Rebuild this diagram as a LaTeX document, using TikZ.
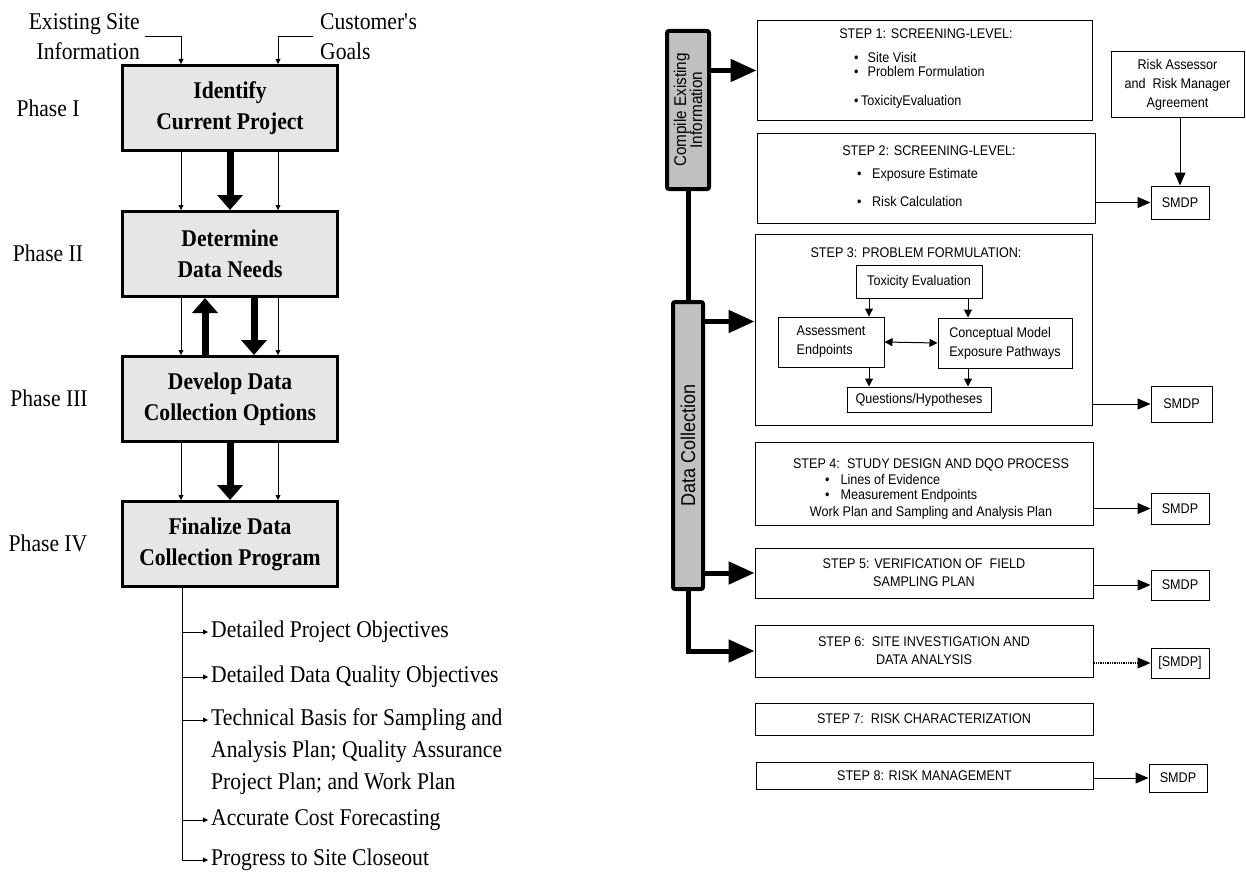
\documentclass[tikz,border=0pt]{standalone}
\usepackage{fontspec}
\setmainfont{Liberation Serif}[FakeStretch=0.9]
\newfontfamily\rsans{Liberation Sans}[FakeStretch=0.9]
\usetikzlibrary{arrows.meta}
\definecolor{boxgray}{RGB}{230,230,230}
\definecolor{bargray}{RGB}{192,192,192}
\begin{document}
\begin{tikzpicture}[x=1pt,y=-1pt,
  phasebox/.style={draw, line width=3pt, fill=boxgray, minimum width=215pt, minimum height=85pt, inner sep=0pt, align=center, font=\bfseries\fontsize{24}{31}\selectfont},
  phaselbl/.style={font=\fontsize{24}{30}\selectfont, inner sep=0pt},
  thinarr/.style={line width=0.8pt, -{Triangle[length=5pt,width=5pt]}},
  fatarr/.style={line width=7pt, -{Triangle[length=15pt,width=25pt]}},
  listtxt/.style={anchor=west, inner xsep=3pt, inner ysep=0pt, align=left, font=\fontsize{24}{32}\selectfont},
  sans/.style={font=\rsans\fontsize{14}{14}\selectfont, inner sep=0pt, text height=10pt, text depth=3pt},
  stepbox/.style={draw, line width=1pt, inner sep=0pt, align=center, font=\rsans\fontsize{14}{18}\selectfont},
  innerbox/.style={draw, line width=1pt, inner sep=0pt, font=\rsans\fontsize{14}{19}\selectfont},
  smdp/.style={draw, line width=1pt, minimum width=58pt, inner sep=0pt, font=\rsans\fontsize{14}{14}\selectfont},
  medarr/.style={line width=1pt, -{Triangle[length=13pt,width=11pt]}},
  smallarr/.style={line width=1pt, -{Triangle[length=8pt,width=8pt]}},
  bigarr/.style={line width=5pt, -{Triangle[length=26pt,width=22pt]}},
  bar/.style={draw, line width=4pt, fill=bargray, rounded corners=2pt, rotate=90, inner sep=0pt, align=center},
]
\useasboundingbox (0,0) rectangle (1246,875);

% ---------------- left: phases ----------------
\node[phasebox] (b1) at (230,108) {Identify\\Current Project};
\node[phasebox] (b2) at (230,254) {Determine\\Data Needs};
\node[phasebox] (b3) at (230,399) {Develop Data\\Collection Options};
\node[phasebox] (b4) at (230,544) {Finalize Data\\Collection Program};

\node[phaselbl] (p1) at (48,108) {Phase I};
\node[phaselbl] (p2) at (48,253) {Phase II};
\node[phaselbl] (p3) at (49,398) {Phase III};
\node[phaselbl] (p4) at (48,543) {Phase IV};

\node[phaselbl, align=right, anchor=east] (esi) at (140,37) {Existing Site\\Information};
\node[phaselbl, align=left, anchor=west] (cg) at (320,37) {Customer\textquotesingle s\\Goals};
\coordinate (esiend) at (145,36);
\coordinate (cgend) at (313,36);
\draw[thinarr] (esiend) -| ([xshift=-49pt]b1.north);
\draw[thinarr] (cgend) -| ([xshift=48pt]b1.north);

\foreach \a/\b in {b1/b2,b2/b3,b3/b4}{
  \draw[thinarr] ([xshift=-49pt]\a.south) -- ([xshift=-49pt]\b.north);
  \draw[thinarr] ([xshift=48pt]\a.south) -- ([xshift=48pt]\b.north);
}
\draw[fatarr] (b1.south) -- (b2.north);
\draw[fatarr] ([xshift=-25pt]b3.north) -- ([xshift=-25pt]b2.south);
\draw[fatarr] ([xshift=24pt]b2.south) -- ([xshift=24pt]b3.north);
\draw[fatarr] (b3.south) -- (b4.north);

% outputs
\node[listtxt] (l1) at (208,632) {Detailed Project Objectives};
\node[listtxt] (l2) at (208,677) {Detailed Data Quality Objectives};
\node[listtxt] (l3) at (208,752) {Technical Basis for Sampling and\\Analysis Plan; Quality Assurance\\Project Plan; and Work Plan};
\node[listtxt] (l4) at (208,820) {Accurate Cost Forecasting};
\node[listtxt] (l5) at (208,860) {Progress to Site Closeout};
\coordinate (trunk) at ([xshift=-48pt]b4.south);
\coordinate (l3a) at ([yshift=32pt]l3.west);
\draw[thinarr] (trunk |- l1.west) -- (l1.west);
\draw[thinarr] (trunk |- l2.west) -- (l2.west);
\draw[thinarr] (trunk |- l3a) -- (l3a);
\draw[thinarr] (trunk |- l4.west) -- (l4.west);
\draw[thinarr] (trunk) |- (l5.west);

% ---------------- right: steps ----------------
\node[bar, minimum width=158pt, minimum height=42pt, font=\rsans\fontsize{17}{16}\selectfont] (cbar) at (688,110) {Compile Existing\\Information};
\node[bar, minimum width=287pt, minimum height=30pt, font=\rsans\fontsize{20}{20}\selectfont] (dbar) at (688,445.5) {Data Collection};
\draw[line width=5pt] (cbar.west) -- (dbar.east);

\node[stepbox, minimum width=335pt, minimum height=99pt] (s1) at (924.5,70.5) {};
\node[stepbox, minimum width=338pt, minimum height=90pt] (s2) at (926,178) {};
\node[stepbox, minimum width=337pt, minimum height=191pt] (s3) at (923.5,329.5) {};
\node[stepbox, minimum width=338pt, minimum height=83pt] (s4) at (924,483.5) {};
\node[stepbox, minimum width=338pt, minimum height=50pt] (s5) at (924,573) {STEP 5: VERIFICATION OF\ \ FIELD\\SAMPLING PLAN};
\node[stepbox, minimum width=338pt, minimum height=52pt] (s6) at (924,651) {STEP 6:\ \ SITE INVESTIGATION AND\\DATA ANALYSIS};
\node[stepbox, minimum width=338pt, minimum height=32pt] (s7) at (924,719) {STEP 7:\ \ RISK CHARACTERIZATION};
\node[stepbox, minimum width=337pt, minimum height=27pt] (s8) at (924.5,775.5) {STEP 8: RISK MANAGEMENT};

\coordinate (s3in) at ([yshift=8pt]s3.west);
\draw[bigarr] (cbar.south |- s1.west) -- (s1.west);
\draw[bigarr] (dbar.south |- s3in) -- (s3in);
\draw[bigarr] (dbar.south |- s5.west) -- (s5.west);
\draw[bigarr] (dbar.west) |- (s6.west);

% step 1
\node[sans] (t1) at (926,35) {STEP 1: SCREENING-LEVEL:};
\node[sans, anchor=west] (t1a) at (854,59) {•\hspace{9pt}Site Visit};
\node[sans, anchor=west] (t1b) at (854,73) {•\hspace{9pt}Problem Formulation};
\node[sans, anchor=west] (t1c) at (854,102) {•\hspace{2.5pt}ToxicityEvaluation};
% step 2
\node[sans] (t2) at (929,152) {STEP 2: SCREENING-LEVEL:};
\node[sans, anchor=west] (t2a) at (857,175) {•\hspace{10.5pt}Exposure Estimate};
\node[sans, anchor=west] (t2b) at (857,203) {•\hspace{10.5pt}Risk Calculation};
% step 3
\node[sans] (t3) at (916,254) {STEP 3: PROBLEM FORMULATION:};
\node[innerbox, minimum width=126pt, minimum height=33pt] (tox) at (919,281.5) {Toxicity Evaluation};
\node[innerbox, minimum width=106pt, minimum height=50pt, align=left] (ae) at (831,342) {Assessment\\Endpoints};
\node[innerbox, minimum width=134pt, minimum height=50pt, align=left] (cm) at (1005,343) {Conceptual Model\\Exposure Pathways};
\node[innerbox, minimum width=144pt, minimum height=25pt] (qh) at (919,399.5) {Questions/Hypotheses};
\draw[smallarr] ([xshift=-50pt]tox.south) -- ([xshift=-50pt]tox.south |- ae.north);
\draw[smallarr] ([xshift=49pt]tox.south) -- ([xshift=49pt]tox.south |- cm.north);
\draw[smallarr] ([xshift=-50pt]qh.north |- ae.south) -- ([xshift=-50pt]qh.north);
\draw[smallarr] ([xshift=49pt]qh.north |- cm.south) -- ([xshift=49pt]qh.north);
\draw[line width=1pt, {Triangle[length=8pt,width=8pt]}-{Triangle[length=8pt,width=8pt]}] (ae.east) -- (cm.west);
% step 4
\node[sans] (t4) at (931,465) {STEP 4:\ \ STUDY DESIGN AND DQO PROCESS};
\node[sans, anchor=west] (t4a) at (825,481) {•\hspace{11pt}Lines of Evidence};
\node[sans, anchor=west] (t4b) at (825,496) {•\hspace{11pt}Measurement Endpoints};
\node[sans] (t4c) at (931,513) {Work Plan and Sampling and Analysis Plan};

% SMDP boxes
\node[smdp, minimum width=133pt, minimum height=65pt, align=center, font=\rsans\fontsize{14}{19}\selectfont] (ra) at (1177.5,84.5) {Risk Assessor\\and\ \ Risk Manager\\Agreement};
\node[smdp, minimum height=33pt] (m2) at (1180,202.5) {SMDP};
\node[smdp, minimum width=61pt, minimum height=36pt] (m3) at (1181.5,404) {SMDP};
\node[smdp, minimum height=31pt] (m4) at (1180,508.5) {SMDP};
\node[smdp, minimum height=30pt] (m5) at (1180,585) {SMDP};
\node[smdp, minimum height=30pt] (m6) at (1180,663) {[SMDP]};
\node[smdp, minimum height=28pt] (m8) at (1178,778) {SMDP};

\draw[medarr] (ra.south -| m2.north) -- (m2.north);
\draw[medarr] (s2.east |- m2.west) -- (m2.west);
\draw[medarr] (s3.east |- m3.west) -- (m3.west);
\draw[medarr] (s4.east |- m4.west) -- (m4.west);
\draw[medarr] (s5.east |- m5.west) -- (m5.west);
\coordinate (m6tip) at ([xshift=-13pt]m6.west);
\draw[densely dotted, line width=1.3pt] (s6.east |- m6.west) -- (m6tip);
\draw[medarr] (m6tip) -- (m6.west);
\draw[medarr] (s8.east |- m8.west) -- (m8.west);
\end{tikzpicture}
\end{document}
